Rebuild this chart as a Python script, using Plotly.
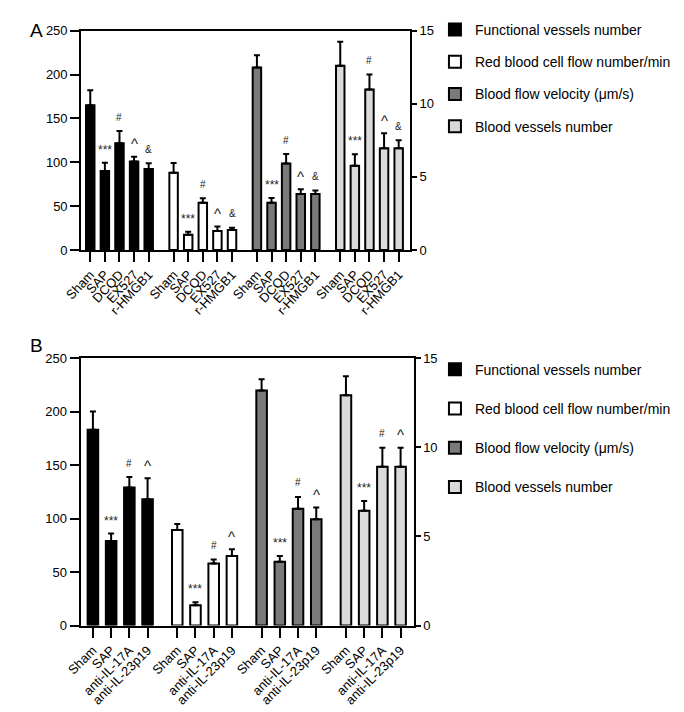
import plotly.graph_objects as go

W, H = 684, 712
FONT = "Arial, Liberation Sans, Helvetica, sans-serif"

# ---------------- data ----------------
series_names = ["Functional vessels number", "Red blood cell flow number/min",
                "Blood flow velocity (μm/s)", "Blood vessels number"]
series_colors = ["#000000", "#ffffff", "#7a7a7a", "#dadada"]

# Panel A
groups_a = ["Sham", "SAP", "DCQD", "EX527", "r-HMGB1"]
func_a = [165, 90, 121.5, 100.7, 92.2]
func_a_err = [182, 99.3, 135.6, 106.3, 98.9]
rbc_a = [88, 17.4, 53.7, 21.5, 22.6]
rbc_a_err = [99, 20.7, 59, 26.7, 25.2]
vel_a = [208, 53.7, 98.5, 63.7, 63.7]
vel_a_err = [222, 59.3, 109.3, 69.3, 67.8]
ves_a = [12.6, 5.76, 10.98, 6.96, 6.96]
ves_a_err = [14.24, 6.54, 12.0, 7.99, 7.5]
marks_a = ["", "***", "#", "^", "&"]

# Panel B
groups_b = ["Sham", "SAP", "anti-IL-17A", "anti-IL-23p19"]
func_b = [183.2, 79.1, 129.2, 118.2]
func_b_err = [200.3, 86.1, 138.9, 137.7]
rbc_b = [89.5, 18.9, 58, 65]
rbc_b_err = [95, 21.7, 61.7, 71.5]
vel_b = [219.8, 59.8, 109.3, 99.5]
vel_b_err = [230.5, 65, 120.3, 110.5]
ves_b = [12.93, 6.44, 8.92, 8.92]
ves_b_err = [13.99, 6.99, 9.98, 9.98]
marks_b = ["", "***", "#", "^"]

left_ticks = [0, 50, 100, 150, 200, 250]
right_ticks = [0, 5, 10, 15]

mark_size = {"***": 12, "#": 10, "^": 15, "&": 10}
mark_shift = {"***": 9, "#": 10, "^": 9, "&": 10}

fig = go.Figure()
annotations = []


def add_panel(groups, vals, caps, marks, pitch, xaxis, yleft, yright, legend):
    n = len(groups)
    all_x = []
    for s, (v, c) in enumerate(zip(vals, caps)):
        xs = [s * pitch + i for i in range(n)]
        all_x += xs
        yax = yright if s == 3 else yleft
        fig.add_trace(go.Bar(
            x=xs, y=v, name=series_names[s], width=0.58,
            marker=dict(color=series_colors[s], line=dict(color="black", width=2)),
            error_y=dict(type="data", symmetric=False,
                         array=[cc - vv for cc, vv in zip(c, v)],
                         arrayminus=[0] * n, color="black", thickness=2, width=3),
            xaxis=xaxis, yaxis=yax, legend=legend, showlegend=True,
            legendgroup=f"{legend}{s}",
        ))
        for i in range(n):
            m = marks[i]
            if m:
                annotations.append(dict(
                    x=xs[i], y=c[i], xref=xaxis, yref=yax, text=m, showarrow=False,
                    yanchor="middle", yshift=mark_shift[m] + 4,
                    font=dict(family=FONT, size=mark_size[m], color="#222")))
    return all_x


pitch_a = 5.705
xa = add_panel(groups_a, [func_a, rbc_a, vel_a, ves_a], [func_a_err, rbc_a_err, vel_a_err, ves_a_err],
               marks_a, pitch_a, "x", "y", "y2", "legend")
pitch_b = 4.63
xb = add_panel(groups_b, [func_b, rbc_b, vel_b, ves_b], [func_b_err, rbc_b_err, vel_b_err, ves_b_err],
               marks_b, pitch_b, "x2", "y3", "y4", "legend2")

axis_common = dict(showline=True, linecolor="black", linewidth=2, ticks="outside",
                   tickwidth=2, tickcolor="black", showgrid=False, zeroline=False,
                   tickfont=dict(family=FONT, size=13, color="black"))

dom_ax = [56.7 / W, 394.3 / W]
dom_ay = [1 - 240 / H, 1 - 16 / H]
dom_bx = [56 / W, 398 / W]
dom_by = [1 - 623.7 / H, 1 - 350.7 / H]

fig.update_layout(
    width=W, height=H, margin=dict(l=0, r=0, t=0, b=0),
    paper_bgcolor="white", plot_bgcolor="white", barmode="overlay",
    font=dict(family=FONT, color="black"),
    xaxis=dict(axis_common, domain=dom_ax, range=[-0.62, 3 * pitch_a + 4 + 0.77],
               tickvals=xa, ticktext=groups_a * 4, tickangle=-47, ticklen=10,
               mirror=True, anchor="y"),
    yaxis=dict(axis_common, domain=dom_ay, range=[0, 250], tickvals=left_ticks,
               ticklen=9, anchor="x"),
    yaxis2=dict(axis_common, domain=dom_ay, range=[0, 15], tickvals=right_ticks,
                overlaying="y", side="right", ticklen=5, anchor="x"),
    xaxis2=dict(axis_common, domain=dom_bx, range=[-0.68, 3 * pitch_b + 3 + 0.71],
                tickvals=xb, ticktext=groups_b * 4, tickangle=-45, ticklen=10,
                tickfont=dict(family=FONT, size=13, color="black"),
                mirror=True, anchor="y3"),
    yaxis3=dict(axis_common, domain=dom_by, range=[0, 250], tickvals=left_ticks,
                ticklen=9, anchor="x2"),
    yaxis4=dict(axis_common, domain=dom_by, range=[0, 15], tickvals=right_ticks,
                overlaying="y3", side="right", ticklen=5, anchor="x2"),
    legend=dict(x=420 / W, xanchor="left", y=1 + 1 / H, yanchor="top",
                font=dict(family=FONT, size=14, color="black"),
                traceorder="grouped", tracegroupgap=11, bgcolor="rgba(0,0,0,0)"),
    legend2=dict(x=420 / W, xanchor="left", y=1 - 346 / H, yanchor="top",
                 font=dict(family=FONT, size=14, color="black"),
                 traceorder="grouped", tracegroupgap=18, bgcolor="rgba(0,0,0,0)"),
)

annotations.append(dict(x=2 / W, y=1 - 3 / H, xref="paper", yref="paper", text="A",
                        showarrow=False, xanchor="left", yanchor="top",
                        font=dict(family=FONT, size=19, color="black")))
annotations.append(dict(x=2 / W, y=1 - 325 / H, xref="paper", yref="paper", text="B",
                        showarrow=False, xanchor="left", yanchor="top",
                        font=dict(family=FONT, size=19, color="black")))
fig.update_layout(annotations=annotations)

fig.write_html("out.html")
